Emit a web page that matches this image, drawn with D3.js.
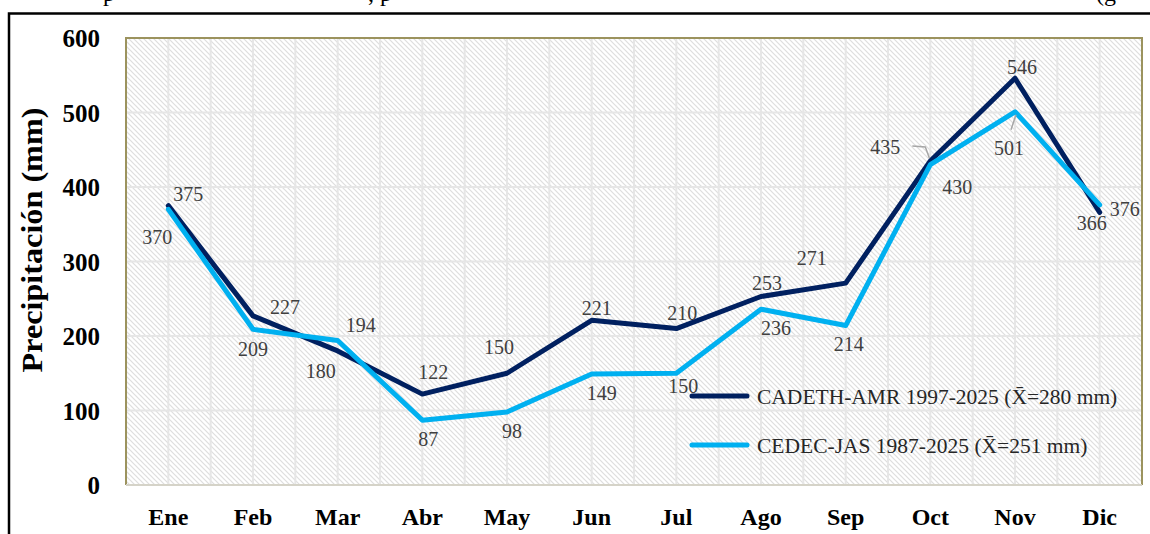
<!DOCTYPE html>
<html>
<head>
<meta charset="utf-8">
<script src="https://cdn.jsdelivr.net/npm/d3@7"></script>
<style>
  html, body { margin: 0; padding: 0; background: #fff; overflow: hidden; }
  svg { display: block; font-family: "Times New Roman", "Liberation Serif", serif; }
</style>
</head>
<body>
<div id="chart"></div>
<script>
// monthly precipitation (mm)
var months = ["Ene", "Feb", "Mar", "Abr", "May", "Jun", "Jul", "Ago", "Sep", "Oct", "Nov", "Dic"];
var cadeth = [375, 227, 180, 122, 150, 221, 210, 253, 271, 435, 546, 366];
var cedec = [370, 209, 194, 87, 98, 149, 150, 236, 214, 430, 501, 376];
var yTicks = [0, 100, 200, 300, 400, 500, 600];
var seriesNames = ["CADETH-AMR 1997-2025 (X\u0304=280 mm)", "CEDEC-JAS 1987-2025 (X\u0304=251 mm)"];

// hand placed label offsets (like the dragged labels of the original)
var cadethLabelOffsets = [[20, -12], [32, -9], [-17, 20], [11, -22], [-8, -26], [5, -12],
  [6, -16], [6, -14], [-34, -25], [-45, -14], [7, -11], [-8, 11]];
var cedecLabelOffsets = [[-11, 28], [0, 20], [23, -15], [6, 19], [5, 19], [10, 19],
  [7, 13], [15, 19], [3, 18], [27, 22], [-6, 36], [25, 4]];

var width = 1150, height = 534;
var plot = {left: 126, top: 38, right: 1142, bottom: 485};
var colors = ["#002060", "#00b0f0"];

var svg = d3.select("#chart").append("svg")
  .attr("width", width)
  .attr("height", height);

// hatch fill of the plot area
var pattern = svg.append("defs").append("pattern")
  .attr("id", "hatch")
  .attr("patternUnits", "userSpaceOnUse")
  .attr("width", 5)
  .attr("height", 5);
pattern.append("rect").attr("width", 5).attr("height", 5).attr("fill", "#fff");
pattern.append("path")
  .attr("d", "M-1,-1 L6,6 M-1,4 L1,6 M4,-1 L6,1")
  .attr("stroke", "#dedede")
  .attr("stroke-width", 1.2);

// bits of the document text above the figure
var topText = svg.append("g")
  .attr("font-size", 24)
  .attr("fill", "#000");
topText.append("text").attr("x", 103).attr("y", 1).text("p");
topText.append("text").attr("x", 368).attr("y", 1).text(", p");
topText.append("text").attr("x", 1096).attr("y", 1).text("(g");

// outer frame
svg.append("rect")
  .attr("x", 9)
  .attr("y", 13.5)
  .attr("width", 1200)
  .attr("height", 600)
  .attr("fill", "none")
  .attr("stroke", "#000")
  .attr("stroke-width", 2.5);

var x = d3.scaleBand()
  .domain(months)
  .range([plot.left, plot.right])
  .paddingInner(0)
  .paddingOuter(0);
var cx = function(m) { return x(m) + x.bandwidth() / 2; };

var y = d3.scaleLinear()
  .domain([0, 600])
  .range([plot.bottom, plot.top]);

svg.append("rect")
  .attr("x", plot.left)
  .attr("y", plot.top)
  .attr("width", plot.right - plot.left)
  .attr("height", plot.bottom - plot.top)
  .attr("fill", "url(#hatch)");

// gridlines: vertical at centres and boundaries, horizontal every 100
var grid = svg.append("g").attr("stroke", "#e6e6e6").attr("stroke-width", 2);
var vLines = [];
months.forEach(function(m) { vLines.push(x(m)); vLines.push(cx(m)); });
grid.selectAll(".v").data(vLines.slice(1))
  .enter().append("line")
  .attr("class", "v")
  .attr("x1", function(d) { return d; })
  .attr("x2", function(d) { return d; })
  .attr("y1", plot.top)
  .attr("y2", plot.bottom);
grid.selectAll(".h").data(yTicks.slice(1, -1))
  .enter().append("line")
  .attr("class", "h")
  .attr("x1", plot.left)
  .attr("x2", plot.right)
  .attr("y1", function(d) { return y(d); })
  .attr("y2", function(d) { return y(d); });

// plot border
svg.append("path")
  .attr("d", "M" + plot.left + "," + plot.bottom + "V" + plot.top + "H" + plot.right + "V" + plot.bottom)
  .attr("fill", "none")
  .attr("stroke", "#9c935e")
  .attr("stroke-width", 2);
svg.append("line")
  .attr("x1", plot.left).attr("x2", plot.right)
  .attr("y1", plot.bottom).attr("y2", plot.bottom)
  .attr("stroke", "#d5d3c8")
  .attr("stroke-width", 2);

// axes
var yAxis = d3.axisLeft(y).tickValues(yTicks).tickSize(0).tickPadding(26);
svg.append("g")
  .attr("transform", "translate(" + plot.left + ",0)")
  .call(yAxis)
  .call(function(g) { g.select(".domain").remove(); })
  .selectAll("text")
  .attr("font-family", "\"Times New Roman\", \"Liberation Serif\", serif")
  .attr("font-size", 25)
  .attr("font-weight", "bold")
  .attr("fill", "#000")
  .attr("dy", "0.34em");

var xAxis = d3.axisBottom(x).tickSize(0).tickPadding(0);
svg.append("g")
  .attr("transform", "translate(0," + plot.bottom + ")")
  .call(xAxis)
  .call(function(g) { g.select(".domain").remove(); })
  .selectAll("text")
  .attr("font-family", "\"Times New Roman\", \"Liberation Serif\", serif")
  .attr("font-size", 24)
  .attr("font-weight", "bold")
  .attr("fill", "#000")
  .attr("y", 40)
  .attr("dy", 0);

svg.append("text")
  .attr("transform", "translate(42,240) rotate(-90)")
  .attr("text-anchor", "middle")
  .attr("font-size", 29)
  .attr("font-weight", "bold")
  .attr("textLength", 265)
  .attr("lengthAdjust", "spacingAndGlyphs")
  .text("Precipitación (mm)");

// series lines
var series = [
  {name: seriesNames[0], values: cadeth, offsets: cadethLabelOffsets, color: colors[0]},
  {name: seriesNames[1], values: cedec, offsets: cedecLabelOffsets, color: colors[1]}
];

var line = d3.line()
  .x(function(d, i) { return cx(months[i]); })
  .y(function(d) { return y(d); });

svg.selectAll(".series").data(series)
  .enter().append("path")
  .attr("class", "series")
  .attr("d", function(s) { return line(s.values); })
  .attr("fill", "none")
  .attr("stroke", function(s) { return s.color; })
  .attr("stroke-width", 5)
  .attr("stroke-linejoin", "round")
  .attr("stroke-linecap", "round");

// leader lines for the two labels pulled away from their points
var leaders = svg.append("g")
  .attr("fill", "none")
  .attr("stroke", "#a6a6a6")
  .attr("stroke-width", 1.5);
var oct = months.indexOf("Oct"), nov = months.indexOf("Nov");
var px = cx("Oct"), py = y(cadeth[oct]);
var lx = px + cadethLabelOffsets[oct][0], ly = py + cadethLabelOffsets[oct][1];
leaders.append("path")
  .attr("d", "M" + (lx + 27) + "," + (ly - 1) + "L" + (px - 5) + "," + ly + "L" + (px - 1) + "," + (py - 3));
px = cx("Nov"); py = y(cedec[nov]);
lx = px + cedecLabelOffsets[nov][0]; ly = py + cedecLabelOffsets[nov][1];
leaders.append("path")
  .attr("d", "M" + (lx + 2) + "," + (ly - 18) + "L" + (px + 1) + "," + (py + 3));

// data labels
series.forEach(function(s, k) {
  svg.append("g").selectAll("text").data(s.values)
    .enter().append("text")
    .attr("x", function(d, i) { return cx(months[i]) + s.offsets[i][0]; })
    .attr("y", function(d, i) { return y(d) + s.offsets[i][1]; })
    .attr("dy", "0.35em")
    .attr("text-anchor", "middle")
    .attr("font-size", 20)
    .attr("fill", "#404040")
    .text(function(d) { return d; });
});

// legend
var legend = svg.selectAll(".legend").data(series)
  .enter().append("g")
  .attr("class", "legend")
  .attr("transform", function(s, i) { return "translate(692," + (396 + i * 49) + ")"; });
legend.append("line")
  .attr("x1", 0).attr("x2", 55)
  .attr("y1", 0).attr("y2", 0)
  .attr("stroke", function(s) { return s.color; })
  .attr("stroke-width", 5)
  .attr("stroke-linecap", "round");
legend.append("text")
  .attr("x", 65)
  .attr("dy", "0.35em")
  .attr("font-size", 21.5)
  .attr("fill", "#262626")
  .text(function(s) { return s.name; });
</script>
</body>
</html>
